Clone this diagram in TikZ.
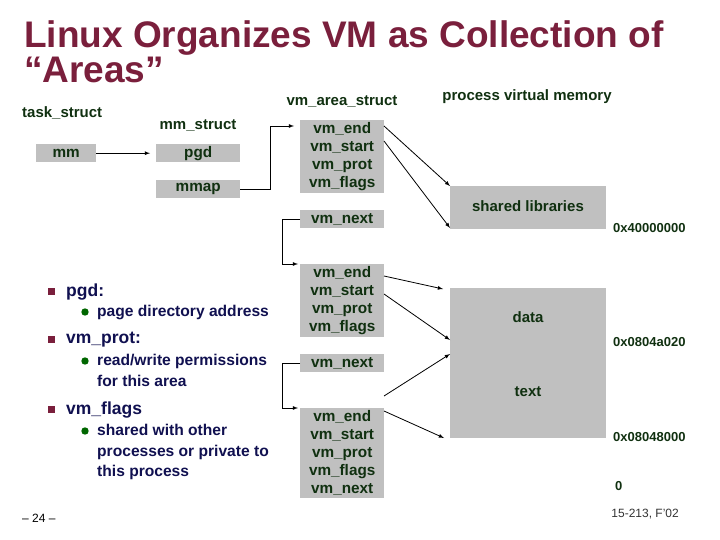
\documentclass[tikz,border=0pt]{standalone}
\usepackage{fontspec}
\setmainfont{Liberation Sans}
\begin{document}
\definecolor{ttl}{HTML}{7A1F3C}
\definecolor{dg}{HTML}{103010}
\definecolor{nv}{HTML}{101050}
\definecolor{gbox}{HTML}{C0C0C0}
\begin{tikzpicture}[x=1pt,y=-1pt,
  box/.style={fill=gbox,draw=none,inner sep=0pt,text=dg,font=\bfseries\fontsize{15.3}{18}\selectfont,align=center,anchor=north west},
  lbl/.style={text=dg,font=\bfseries\fontsize{15}{18}\selectfont,inner sep=0pt},
  addr/.style={text=dg,font=\bfseries\fontsize{13}{13}\selectfont,inner sep=0pt,anchor=west},
  arr/.style={-latex,thick},
  bl/.style={text=nv,font=\bfseries\fontsize{17.5}{20}\selectfont,anchor=west,inner sep=0pt},
  sb/.style={text=nv,font=\bfseries\fontsize{15.6}{20.5}\selectfont,anchor=north west,inner sep=0pt,align=left}]
\useasboundingbox (0,0) rectangle (720,540);
\node[anchor=west,text=ttl,font=\bfseries\fontsize{37}{35}\selectfont,inner sep=0pt,align=left] (t) at (24,52) {Linux Organizes VM as Collection of\\“Areas”};
\node[lbl,anchor=west] (ts) at (22,113) {task\_struct};
\node[lbl] (ms) at (198,126) {mm\_struct};
\node[lbl] (vs) at (342,102) {vm\_area\_struct};
\node[lbl] (pv) at (527,97) {process virtual memory};
\node[box,minimum width=60pt,minimum height=18pt] (mm) at (36,144) {mm};
\node[box,minimum width=84pt,minimum height=18pt] (pgd) at (156,144) {pgd};
\node[box,minimum width=84pt,minimum height=18pt] (mmap) at (156,180) {mmap};
\node[box,minimum width=84pt,minimum height=73pt] (v1) at (300,120) {vm\_end\\vm\_start\\vm\_prot\\vm\_flags};
\node[box,minimum width=84pt,minimum height=18pt] (n1) at (300,210) {vm\_next};
\node[box,minimum width=84pt,minimum height=73pt] (v2) at (300,264) {vm\_end\\vm\_start\\vm\_prot\\vm\_flags};
\node[box,minimum width=84pt,minimum height=18pt] (n2) at (300,354) {vm\_next};
\node[box,minimum width=84pt,minimum height=90pt] (v3) at (300,408) {vm\_end\\vm\_start\\vm\_prot\\vm\_flags\\vm\_next};
\node[box,minimum width=156pt,minimum height=43pt] (sl) at (450,186) {};
\node[box,minimum width=156pt,minimum height=150pt] (dt) at (450,288) {};
\node[lbl] (slt) at (528,206) {shared libraries};
\node[lbl] (dtt) at (528,317) {data};
\node[lbl] (txt) at (528,392) {text};
\node[addr] (a1) at (613,228) {0x40000000};
\node[addr] (a2) at (613,342) {0x0804a020};
\node[addr] (a3) at (613,437) {0x08048000};
\node[addr] (a4) at (615,486) {0};
\draw[arr] (mm.east) -- (pgd.west -| 150,0);
\coordinate (c1) at (294,126);
\draw[arr] (mmap.east) -| (270,126) -- (c1);
\coordinate (c2) at (298,264);
\draw[arr] (n1.west) -| (282,264) -- (c2);
\coordinate (c3) at (298,408);
\draw[arr] (n2.west) -| (282,408) -- (c3);
\coordinate (m1) at (450,186); \coordinate (m2) at (450,228);
\coordinate (m3) at (443,289); \coordinate (m4) at (450,340);
\coordinate (m5) at (450,354); \coordinate (m6) at (444,438);
\draw[arr] (384,126) -- (m1);
\draw[arr] (384,141) -- (m2);
\draw[arr] (384,276) -- (m3);
\draw[arr] (384,294) -- (m4);
\draw[arr] (384,396) -- (m5);
\draw[arr] (384,411) -- (m6);
\foreach \y in {292,340,410} \fill[ttl] (48,\y-4) rectangle ++(7,7);
\foreach \y in {312,361,431} \fill[green!40!black] (85,\y) circle (3.7);
\node[bl] (b1) at (66,292) {pgd:};
\node[bl] (b2) at (66,340) {vm\_prot:};
\node[bl] (b3) at (66,410) {vm\_flags};
\node[sb] (s1) at (97,305) {page directory address};
\node[sb] (s2) at (97,354) {read/write permissions\\for this area};
\node[sb] (s3) at (97,424) {shared with other\\processes or private to\\this process};
\node[anchor=west,inner sep=0pt,font=\fontsize{12}{14}\selectfont] (pg) at (22,518) {– 24 –};
\node[anchor=east,inner sep=0pt,font=\fontsize{12}{14}\selectfont,text=black!80] (cr) at (679,514) {15-213, F’02};
\end{tikzpicture}
\end{document}
